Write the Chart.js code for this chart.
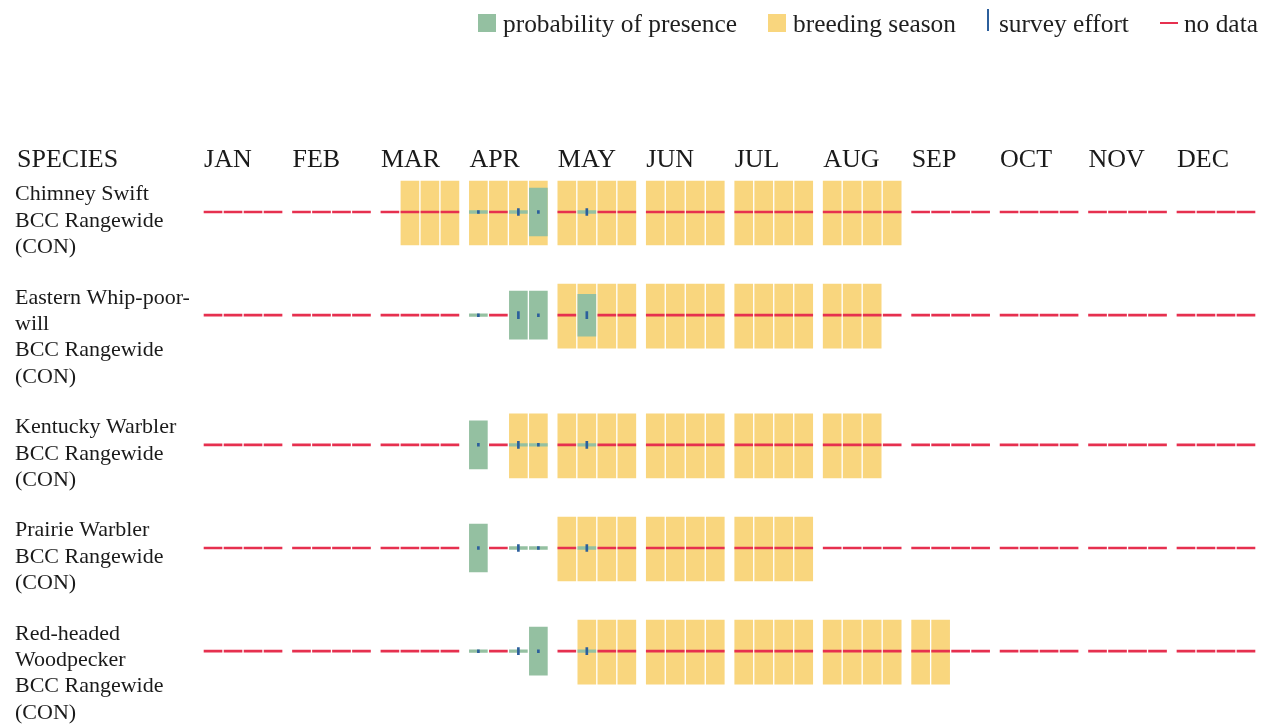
<!DOCTYPE html>
<html>
<head>
<meta charset="utf-8">
<script src="https://cdn.jsdelivr.net/npm/chart.js@4/dist/chart.umd.min.js"></script>
<style>
html, body { margin: 0; padding: 0; background: #ffffff; overflow: hidden; }
#wrap { position: relative; width: 1270px; height: 725px; }
#chart { position: absolute; left: 0; top: 0; }
#legend { position: absolute; left: 478px; top: 8px; display: flex; align-items: center;
  font-family: "Liberation Serif", serif; font-size: 25.4px; line-height: 30px; color: #1f1f1f; white-space: nowrap; }
#legend .item { display: flex; align-items: center; margin-right: 31px; }
#legend .mk { flex: none; }
</style>
</head>
<body>
<div id="wrap">
  <canvas id="chart" width="1270" height="725"></canvas>
  <div id="legend"></div>
</div>
<script>
// ---------------- data ----------------
const MONTHS = ['JAN', 'FEB', 'MAR', 'APR', 'MAY', 'JUN', 'JUL', 'AUG', 'SEP', 'OCT', 'NOV', 'DEC'];
const HEADER_LABEL = 'SPECIES';
const SPECIES = [
  ['Chimney Swift', 'BCC Rangewide', '(CON)'],
  ['Eastern Whip-poor-', 'will', 'BCC Rangewide', '(CON)'],
  ['Kentucky Warbler', 'BCC Rangewide', '(CON)'],
  ['Prairie Warbler', 'BCC Rangewide', '(CON)'],
  ['Red-headed', 'Woodpecker', 'BCC Rangewide', '(CON)']
];
const N = null; // no data for that week

// 48 weeks (4 per month). breeding: 1 = breeding season
// presence: probability of presence 0-10 (null = no data); effort: survey effort (null = none)
const CHSW_BREEDING = [0,0,0,0, 0,0,0,0, 0,1,1,1, 1,1,1,1, 1,1,1,1, 1,1,1,1, 1,1,1,1, 1,1,1,1, 0,0,0,0, 0,0,0,0, 0,0,0,0, 0,0,0,0];
const CHSW_PRESENCE = [N,N,N,N, N,N,N,N, N,N,N,N, 0,N,0,10, N,0,N,N, N,N,N,N, N,N,N,N, N,N,N,N, N,N,N,N, N,N,N,N, N,N,N,N, N,N,N,N];
const CHSW_EFFORT   = [N,N,N,N, N,N,N,N, N,N,N,N, 1,N,2.5,1, N,2.5,N,N, N,N,N,N, N,N,N,N, N,N,N,N, N,N,N,N, N,N,N,N, N,N,N,N, N,N,N,N];

const EWPW_BREEDING = [0,0,0,0, 0,0,0,0, 0,0,0,0, 0,0,0,0, 1,1,1,1, 1,1,1,1, 1,1,1,1, 1,1,1,0, 0,0,0,0, 0,0,0,0, 0,0,0,0, 0,0,0,0];
const EWPW_PRESENCE = [N,N,N,N, N,N,N,N, N,N,N,N, 0,N,10,10, N,8.7,N,N, N,N,N,N, N,N,N,N, N,N,N,N, N,N,N,N, N,N,N,N, N,N,N,N, N,N,N,N];
const EWPW_EFFORT   = [N,N,N,N, N,N,N,N, N,N,N,N, 1,N,2.5,1, N,2.5,N,N, N,N,N,N, N,N,N,N, N,N,N,N, N,N,N,N, N,N,N,N, N,N,N,N, N,N,N,N];

const KEWA_BREEDING = [0,0,0,0, 0,0,0,0, 0,0,0,0, 0,0,1,1, 1,1,1,1, 1,1,1,1, 1,1,1,1, 1,1,1,0, 0,0,0,0, 0,0,0,0, 0,0,0,0, 0,0,0,0];
const KEWA_PRESENCE = [N,N,N,N, N,N,N,N, N,N,N,N, 10,N,0,0, N,0,N,N, N,N,N,N, N,N,N,N, N,N,N,N, N,N,N,N, N,N,N,N, N,N,N,N, N,N,N,N];
const KEWA_EFFORT   = [N,N,N,N, N,N,N,N, N,N,N,N, 1,N,2.5,1, N,2.5,N,N, N,N,N,N, N,N,N,N, N,N,N,N, N,N,N,N, N,N,N,N, N,N,N,N, N,N,N,N];

const PRAW_BREEDING = [0,0,0,0, 0,0,0,0, 0,0,0,0, 0,0,0,0, 1,1,1,1, 1,1,1,1, 1,1,1,1, 0,0,0,0, 0,0,0,0, 0,0,0,0, 0,0,0,0, 0,0,0,0];
const PRAW_PRESENCE = [N,N,N,N, N,N,N,N, N,N,N,N, 10,N,0,0, N,0,N,N, N,N,N,N, N,N,N,N, N,N,N,N, N,N,N,N, N,N,N,N, N,N,N,N, N,N,N,N];
const PRAW_EFFORT   = [N,N,N,N, N,N,N,N, N,N,N,N, 1,N,2.5,1, N,2.5,N,N, N,N,N,N, N,N,N,N, N,N,N,N, N,N,N,N, N,N,N,N, N,N,N,N, N,N,N,N];

const RHWO_BREEDING = [0,0,0,0, 0,0,0,0, 0,0,0,0, 0,0,0,0, 0,1,1,1, 1,1,1,1, 1,1,1,1, 1,1,1,1, 1,1,0,0, 0,0,0,0, 0,0,0,0, 0,0,0,0];
const RHWO_PRESENCE = [N,N,N,N, N,N,N,N, N,N,N,N, 0,N,0,10, N,0,N,N, N,N,N,N, N,N,N,N, N,N,N,N, N,N,N,N, N,N,N,N, N,N,N,N, N,N,N,N];
const RHWO_EFFORT   = [N,N,N,N, N,N,N,N, N,N,N,N, 1,N,2.5,1, N,2.5,N,N, N,N,N,N, N,N,N,N, N,N,N,N, N,N,N,N, N,N,N,N, N,N,N,N, N,N,N,N];

const LEGEND_ITEMS = [
  { text: 'probability of presence', kind: 'presence' },
  { text: 'breeding season', kind: 'breeding' },
  { text: 'survey effort', kind: 'effort' },
  { text: 'no data', kind: 'nodata' }
];

// ---------------- styles / layout ----------------
const COLORS = { breeding: '#f9d67e', presence: '#94c0a1', effort: '#2c5f9c', nodata: '#e6304f' };
const TEXT = '#1a1a1a';
const FONT = '"Liberation Serif", serif';
const W = 1270, H = 725;
const AXIS_H = 178;          // height of the month-label band above the plot
const FIRST_ROW_PX = 181;    // top of first row
const PLOT_LEFT = 198.8, PLOT_RIGHT = 1260.2, LABEL_LEFT = 15;
const LINE = 26.4, ROW_GAP = 24;
const BAR_H = 64, MID = 31, RED_H = 2, PRES_PX = 4.8, PRES_MIN = 2.6, EFFORT_PX = 2.8;

const SERIES = [
  { breeding: CHSW_BREEDING, presence: CHSW_PRESENCE, effort: CHSW_EFFORT },
  { breeding: EWPW_BREEDING, presence: EWPW_PRESENCE, effort: EWPW_EFFORT },
  { breeding: KEWA_BREEDING, presence: KEWA_PRESENCE, effort: KEWA_EFFORT },
  { breeding: PRAW_BREEDING, presence: PRAW_PRESENCE, effort: PRAW_EFFORT },
  { breeding: RHWO_BREEDING, presence: RHWO_PRESENCE, effort: RHWO_EFFORT }
];

const ROW_TOPS = [];
SPECIES.reduce((top, lines) => { ROW_TOPS.push(top); return top + lines.length * LINE + ROW_GAP; }, 0);
const LABEL_VALUES = SPECIES.map((lines, i) => ROW_TOPS[i] + lines.length * LINE / 2 + 0.5);

function rangeFor(kind, s, si, k) {
  const top = ROW_TOPS[si], c = top + MID;
  if (kind === 'breeding') return s.breeding[k] ? [top, top + BAR_H] : null;
  if (kind === 'nodata') return s.presence[k] === null ? [c - RED_H / 2, c + RED_H / 2] : null;
  if (kind === 'presence') {
    if (s.presence[k] === null) return null;
    const h = Math.max(s.presence[k] * PRES_PX, PRES_MIN);
    return [c - h / 2, c + h / 2];
  }
  if (kind === 'effort') {
    if (s.effort[k] === null) return null;
    const h = s.effort[k] * EFFORT_PX;
    return [c - h / 2, c + h / 2];
  }
  return null;
}

function buildLayer(kind) {
  return [0, 1, 2, 3].map(w => {
    const data = [];
    SERIES.forEach((s, si) => {
      MONTHS.forEach((m, mi) => {
        const r = rangeFor(kind, s, si, mi * 4 + w);
        if (r) data.push({ x: m, y: r });
      });
    });
    return {
      label: kind + ' week ' + (w + 1),
      data,
      stack: 'w' + w,
      backgroundColor: COLORS[kind],
      borderWidth: 0,
      barThickness: 20,
      maxBarThickness: kind === 'effort' ? 2 : 18
    };
  });
}

// first dataset is drawn on top
const datasets = [].concat(buildLayer('effort'), buildLayer('presence'), buildLayer('nodata'), buildLayer('breeding'));

const headerPlugin = {
  id: 'speciesHeader',
  afterDraw(chart) {
    const xs = chart.scales.x, ys = chart.scales.y;
    const ctx = chart.ctx;
    ctx.save();
    ctx.font = '26px ' + FONT;
    ctx.fillStyle = TEXT;
    ctx.textAlign = 'left';
    ctx.textBaseline = 'middle';
    ctx.fillText(HEADER_LABEL, ys.left + 2, xs.bottom - xs.options.ticks.padding - 26 * 1.2 / 2);
    ctx.restore();
  }
};

Chart.defaults.font.family = FONT;
new Chart(document.getElementById('chart'), {
  type: 'bar',
  data: { datasets },
  plugins: [headerPlugin],
  options: {
    responsive: false,
    animation: false,
    events: [],
    layout: { padding: { left: LABEL_LEFT, right: W - PLOT_RIGHT, top: 0, bottom: 0 } },
    plugins: { legend: { display: false }, tooltip: { enabled: false }, title: { display: false } },
    scales: {
      x: {
        type: 'category',
        labels: MONTHS,
        position: 'top',
        offset: true,
        grid: { display: false, drawTicks: false },
        border: { display: false },
        ticks: { autoSkip: false, maxRotation: 0, minRotation: 0, align: 'start', labelOffset: -39, padding: 2,
          color: TEXT, font: { family: FONT, size: 26, lineHeight: 1.2 } },
        afterFit(s) { s.height = AXIS_H; s.paddingLeft = 0; s.paddingRight = 0; }
      },
      y: {
        type: 'linear',
        reverse: true,
        stacked: false,
        position: 'left',
        min: AXIS_H - FIRST_ROW_PX,
        max: H - FIRST_ROW_PX,
        grid: { display: false, drawTicks: false },
        border: { display: false },
        afterBuildTicks(s) { s.ticks = LABEL_VALUES.map(v => ({ value: v })); },
        ticks: { autoSkip: false, crossAlign: 'far', padding: 0, color: TEXT,
          font: { family: FONT, size: 22, lineHeight: 1.2 },
          callback: (v, i) => SPECIES[i] },
        afterFit(s) { s.width = PLOT_LEFT - LABEL_LEFT; s.paddingTop = 0; s.paddingBottom = 0; }
      }
    }
  }
});

// HTML legend
const legendEl = document.getElementById('legend');
LEGEND_ITEMS.forEach(it => {
  const item = document.createElement('div');
  item.className = 'item';
  const mk = document.createElement('span');
  mk.className = 'mk';
  if (it.kind === 'effort') {
    mk.style.cssText = 'width:2px;height:22px;background:' + COLORS.effort + ';margin-right:10px;position:relative;top:-3px;';
  } else if (it.kind === 'nodata') {
    mk.style.cssText = 'width:18px;height:2px;background:' + COLORS.nodata + ';margin-right:6px;';
  } else {
    mk.style.cssText = 'width:18px;height:18px;background:' + COLORS[it.kind] + ';margin-right:7px;';
  }
  const tx = document.createElement('span');
  tx.textContent = it.text;
  item.appendChild(mk);
  item.appendChild(tx);
  legendEl.appendChild(item);
});
</script>
</body>
</html>
